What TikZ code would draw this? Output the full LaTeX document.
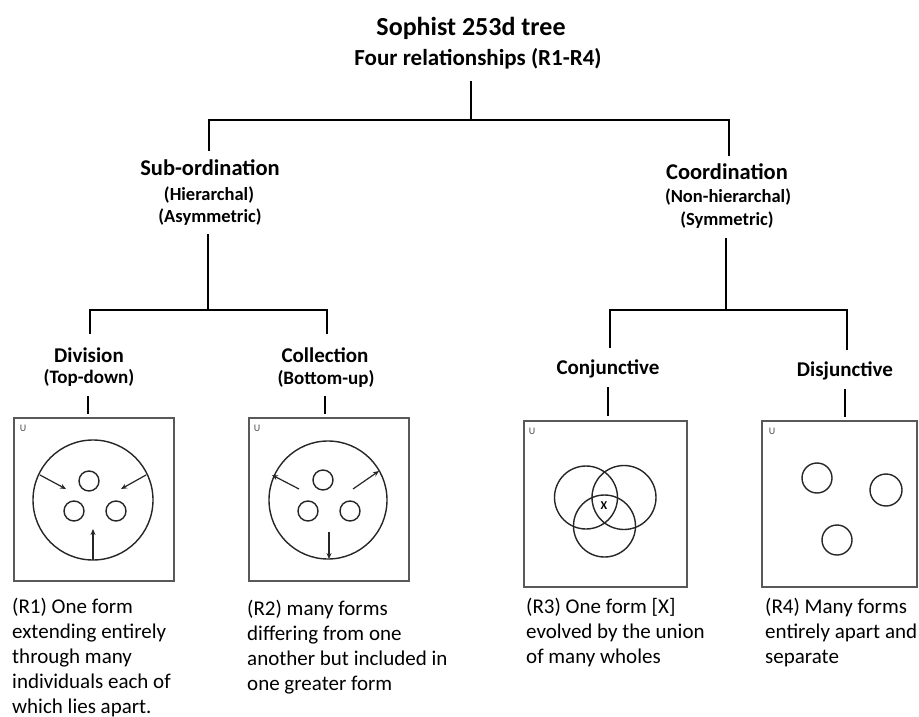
\documentclass[tikz,border=0pt]{standalone}
\usepackage{fontspec}
\setmainfont{Carlito}
\usetikzlibrary{arrows.meta}
\begin{document}
\begin{tikzpicture}[x=1pt,y=-1pt,
  tree/.style={line width=2.6pt,line cap=rect},
  frame/.style={draw=black!65,line width=1.2pt},
  ring/.style={draw=black!85,line width=1.4pt},
  arr/.style={draw=black!85,line width=1.2pt,-{Stealth[length=6pt,width=5pt]}},
  lbl/.style={inner sep=0pt,anchor=center},
  head/.style={lbl,font=\bfseries\fontsize{22.5}{24}\selectfont},
  sub/.style={lbl,font=\bfseries\fontsize{18.5}{20}\selectfont},
  leaf/.style={lbl,font=\bfseries\fontsize{21}{23}\selectfont},
  leafsub/.style={lbl,font=\bfseries\fontsize{19}{21}\selectfont},
  uu/.style={lbl,font=\fontsize{10}{11}\selectfont,text=black!70},
  desc/.style={inner sep=0pt,anchor=north west,align=left,font=\fontsize{21}{25}\selectfont}]
\useasboundingbox (0,0) rectangle (919,717);
% titles
\node[lbl,font=\bfseries\fontsize{26}{28}\selectfont] (title) at (471,28) {Sophist 253d tree};
\node[lbl,font=\bfseries\fontsize{23}{25}\selectfont] (four) at (478,59) {Four relationships (R1-R4)};
% level 1
\node[head] (subord) at (210,168) {Sub-ordination};
\node[sub] (hier) at (209,195) {(Hierarchal)};
\node[sub] (asym) at (210,217) {(Asymmetric)};
\node[head] (coord) at (727,172) {Coordination};
\node[sub] (nonh) at (728,197) {(Non-hierarchal)};
\node[sub] (symm) at (727,220) {(Symmetric)};
% level 2
\node[leaf] (div) at (89,355) {Division};
\node[leafsub] (topd) at (89,378) {(Top-down)};
\node[leaf] (coll) at (325,355) {Collection};
\node[leafsub] (botu) at (326,379) {(Bottom-up)};
\node[leaf] (conj) at (608,369) {Conjunctive};
\node[leaf] (disj) at (845,371) {Disjunctive};
% junction coordinates
\coordinate (r0) at (471,82);
\coordinate (r1) at (471,120);
\coordinate (s0) at (209,150);
\coordinate (c0) at (729,155);
\coordinate (s1) at (208,235);
\coordinate (s2) at (208,310);
\coordinate (d0) at (90,333);
\coordinate (k0) at (327,333);
\coordinate (c1) at (726,239);
\coordinate (c2) at (726,310);
\coordinate (j0) at (610,347);
\coordinate (q0) at (847,349);
\coordinate (d1) at (88,397);  \coordinate (d2) at (88,413);
\coordinate (k1) at (325,397); \coordinate (k2) at (325,413);
\coordinate (j1) at (608,388); \coordinate (j2) at (608,415);
\coordinate (q1) at (845,390); \coordinate (q2) at (845,416);
% tree lines
\draw[tree] (r0) -- (r1);
\draw[tree] (s0) |- (r1) -| (c0);
\draw[tree] (s1) -- (s2);
\draw[tree] (d0) |- (s2) -| (k0);
\draw[tree] (c1) -- (c2);
\draw[tree] (j0) |- (c2) -| (q0);
\draw[tree] (d1) -- (d2);
\draw[tree] (k1) -- (k2);
\draw[tree] (j1) -- (j2);
\draw[tree] (q1) -- (q2);
% box 1 : division
\draw[frame] (14,418) rectangle (174,581);
\node[uu] (u1) at (23,428) {U};
\draw[ring] (93,500) circle (60);
\draw[ring] (89,481) circle (10);
\draw[ring] (74,511) circle (10);
\draw[ring] (116,511) circle (10);
\draw[arr] (40,475) -- (66,489);
\draw[arr] (146,475) -- (121,489);
\draw[arr] (93,560) -- (93,529);
% box 2 : collection
\draw[frame] (249,418) rectangle (409,581);
\node[uu] (u2) at (257,428) {U};
\draw[ring] (328,500) circle (59);
\draw[ring] (323,480) circle (10);
\draw[ring] (308,511) circle (10);
\draw[ring] (350,511) circle (10);
\draw[arr] (299,489) -- (272,475);
\draw[arr] (353,489) -- (379,471);
\draw[arr] (329,532) -- (329,559);
% box 3 : conjunctive
\draw[frame] (524,421) rectangle (687,587);
\node[uu] (u3) at (532,431) {U};
\draw[ring] (586,497.5) circle (31.5);
\draw[ring] (624,497.5) circle (32);
\draw[ring] (604.5,526) circle (31);
\node[lbl,font=\bfseries\fontsize{12}{13}\selectfont] (x) at (604,506) {X};
% box 4 : disjunctive
\draw[frame] (762,421) rectangle (917,587);
\node[uu] (u4) at (772,431) {U};
\draw[ring] (817,478) circle (15);
\draw[ring] (886,490) circle (16);
\draw[ring] (837,540) circle (15);
% descriptions
\node[desc] (t1) at (12,598) {(R1) One form\\extending entirely\\through many\\individuals each of\\which lies apart.};
\node[desc] (t2) at (247,600) {(R2) many forms\\differing from one\\another but included in\\one greater form};
\node[desc] (t3) at (526,598) {(R3) One form [X]\\evolved by the union\\of many wholes};
\node[desc] (t4) at (765,598) {(R4) Many forms\\entirely apart and\\separate};
\end{tikzpicture}
\end{document}
